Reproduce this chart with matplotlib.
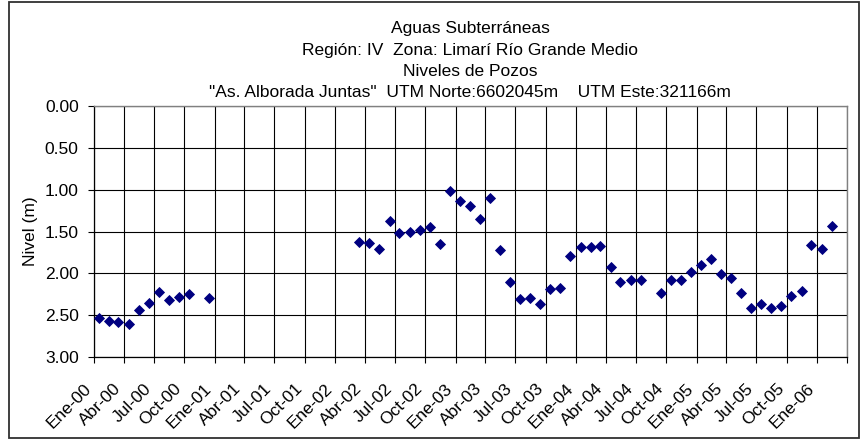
import datetime as dt
import matplotlib
matplotlib.use('Agg')
from matplotlib import pyplot as plt
from matplotlib.patches import Rectangle

# monthly well level readings (depth below ground, m)
months = ['2000-01', '2000-02', '2000-03', '2000-04', '2000-05', '2000-06',
          '2000-07', '2000-08', '2000-09', '2000-10', '2000-12',
          '2002-03', '2002-04', '2002-05', '2002-06', '2002-07', '2002-08',
          '2002-09', '2002-10', '2002-11', '2002-12',
          '2003-01', '2003-02', '2003-03', '2003-04', '2003-05', '2003-06',
          '2003-07', '2003-08', '2003-09', '2003-10', '2003-11', '2003-12',
          '2004-01', '2004-02', '2004-03', '2004-04', '2004-05', '2004-06',
          '2004-07', '2004-09', '2004-10', '2004-11', '2004-12',
          '2005-01', '2005-02', '2005-03', '2005-04', '2005-05', '2005-06',
          '2005-07', '2005-08', '2005-09', '2005-10', '2005-11', '2005-12',
          '2006-01', '2006-02']
levels = [2.53, 2.57, 2.58, 2.60, 2.44, 2.35,
          2.22, 2.32, 2.28, 2.25, 2.30,
          1.63, 1.64, 1.71, 1.38, 1.52, 1.50,
          1.48, 1.45, 1.65, 1.02,
          1.14, 1.19, 1.35, 1.10, 1.72, 2.10,
          2.31, 2.29, 2.37, 2.19, 2.18, 1.79,
          1.69, 1.68, 1.67, 1.93, 2.10, 2.08,
          2.08, 2.24, 2.08, 2.08, 1.99,
          1.90, 1.83, 2.01, 2.05, 2.23, 2.41,
          2.37, 2.41, 2.39, 2.27, 2.21, 1.66,
          1.71, 1.43]

title_lines = ['Aguas Subterráneas',
               'Región: IV  Zona: Limarí Río Grande Medio',
               'Niveles de Pozos',
               '"As. Alborada Juntas"  UTM Norte:6602045m    UTM Este:321166m']
quarter_names = ['Ene', 'Abr', 'Jul', 'Oct']
y_ticks = [0.0, 0.5, 1.0, 1.5, 2.0, 2.5, 3.0]

dates = [dt.date(int(m[:4]), int(m[5:]), 15) for m in months]
tick_dates = [dt.date(2000 + q // 4, 1 + 3 * (q % 4), 1) for q in range(26)]
tick_labels = ['%s-%02d' % (quarter_names[q % 4], q // 4) for q in range(25)] + ['']

plt.rcParams['font.family'] = ['Liberation Sans', 'DejaVu Sans']
plt.rcParams['font.size'] = 12.5

W, H = 861, 442
fig = plt.figure(figsize=(W / 100, H / 100), dpi=100)
left, right, top, bottom = 94, 846.7, 106, 357
ax = fig.add_axes([left / W, 1 - bottom / H, (right - left) / W, (bottom - top) / H])

ax.plot(dates, levels, linestyle='none', marker='D', ms=4.9,
        color='#000080', mec='#000080', mew=0.6, zorder=3)

ax.set_xlim(tick_dates[0], tick_dates[-1])
ax.set_ylim(3, 0)
ax.set_yticks(y_ticks)
ax.set_yticklabels(['%.2f' % v for v in y_ticks])
ax.set_xticks(tick_dates)
ax.set_xticklabels(tick_labels, rotation=45, ha='right', va='top')

ax.grid(True, color='black', lw=0.8)
ax.set_axisbelow(True)
ax.tick_params(axis='both', direction='out', length=4, width=0.8, color='black')
ax.tick_params(axis='y', pad=7)
ax.tick_params(axis='x', pad=13)
for side in ('left', 'bottom'):
    ax.spines[side].set_color('black')
    ax.spines[side].set_linewidth(0.9)
for side in ('top', 'right'):
    ax.spines[side].set_color('#808080')
    ax.spines[side].set_linewidth(1.0)

ax.set_ylabel('Nivel (m)', va='center')
ax.yaxis.set_label_coords(-0.084, 0.5)

# stacked title lines, centred over the plot area
cx = (left + right) / 2 / W
for line, base in zip(title_lines, [33, 55, 76, 97]):
    fig.text(cx, 1 - base / H, line, ha='center', va='baseline')

# chart frame
fig.patches.append(Rectangle((9 / W, 1 - 438 / H), 850 / W, 436 / H,
                             transform=fig.transFigure, fill=False,
                             edgecolor='#303030', lw=1.3))

fig.savefig('out.png', dpi=100)
